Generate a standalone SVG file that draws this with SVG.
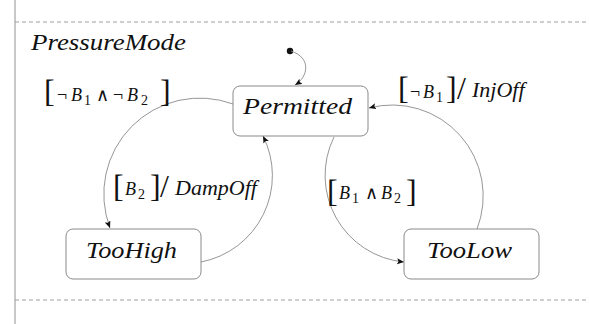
<svg xmlns="http://www.w3.org/2000/svg" width="589" height="324" viewBox="0 0 589 324" font-family="Liberation Serif">
  <style>
    .frame { stroke: #c8c8c8; stroke-width: 2; fill: none; }
    .dash { stroke: #a0a0a0; stroke-width: 1; stroke-dasharray: 4 3; fill: none; }
    .state { fill: #ffffff; stroke: #8a8a8a; stroke-width: 1; }
    .edge { fill: none; stroke: #8a8a8a; stroke-width: 0.9; }
    .name { font-style: italic; font-size: 24px; fill: #111; }
    .title { font-style: italic; font-size: 23px; fill: #111; }
    .lbl { fill: #111; }
    .br { font-size: 32px; }
    .op { font-size: 18px; }
    .v { font-style: italic; font-size: 18px; }
    .sub { font-size: 14px; }
    .act { font-style: italic; font-size: 22px; }
  </style>
  <defs>
    <marker id="arr" markerUnits="userSpaceOnUse" markerWidth="10" markerHeight="8" refX="7" refY="3" orient="auto">
      <path d="M0,0 L7,3 L0,6 L1.5,3 z" fill="#111"/>
    </marker>
  </defs>

  <!-- region frame -->
  <line class="frame" x1="15" y1="0" x2="15" y2="324"/>
  <line class="dash" x1="15" y1="22" x2="589" y2="22"/>
  <line class="dash" x1="15" y1="300" x2="589" y2="300"/>
  <text class="title" font-family="Liberation Serif" x="31" y="50" textLength="155" lengthAdjust="spacingAndGlyphs">PressureMode</text>

  <!-- transitions -->
  <g id="connectors">
    <circle cx="290" cy="51" r="3.2" fill="#111"/>
    <path class="edge" d="M291,51 C312,58 308,77 295,85" marker-end="url(#arr)"/>
    <path class="edge" d="M233,104 A96,96 0 0 0 110,228" marker-end="url(#arr)"/>
    <path class="edge" d="M201,262 A88,88 0 0 0 263,136" marker-end="url(#arr)"/>
    <path class="edge" d="M334,137 A87,87 0 0 0 404,262" marker-end="url(#arr)"/>
    <path class="edge" d="M477,229 A91,91 0 0 0 369,108" marker-end="url(#arr)"/>
  </g>

  <!-- transition labels -->
  <g id="label-permitted-toohigh" class="lbl" font-family="Liberation Serif">
    <text class="br" x="44" y="102">[</text>
    <text class="op" x="57" y="101">¬</text>
    <text class="v" x="71" y="101">B</text>
    <text class="sub" x="84" y="105">1</text>
    <text class="op" x="96" y="101">∧</text>
    <text class="op" x="113" y="101">¬</text>
    <text class="v" x="127" y="101">B</text>
    <text class="sub" x="141" y="105">2</text>
    <text class="br" x="160" y="102">]</text>
  </g>
  <g id="label-toolow-permitted" class="lbl" font-family="Liberation Serif">
    <text class="br" x="398" y="99">[</text>
    <text class="op" x="410" y="98">¬</text>
    <text class="v" x="423" y="98">B</text>
    <text class="sub" x="436" y="102">1</text>
    <text class="br" x="446" y="99">]</text>
    <text class="br" x="457" y="99">/</text>
    <text class="act" x="472" y="97">InjOff</text>
  </g>
  <g id="label-toohigh-permitted" class="lbl" font-family="Liberation Serif">
    <text class="br" x="113" y="197">[</text>
    <text class="v" x="125" y="195">B</text>
    <text class="sub" x="138" y="199">2</text>
    <text class="br" x="150" y="197">]</text>
    <text class="br" x="160" y="197">/</text>
    <text class="act" x="175" y="195">DampOff</text>
  </g>
  <g id="label-permitted-toolow" class="lbl" font-family="Liberation Serif">
    <text class="br" x="327" y="202">[</text>
    <text class="v" x="339" y="199">B</text>
    <text class="sub" x="352" y="203">1</text>
    <text class="op" x="365" y="199">∧</text>
    <text class="v" x="381" y="199">B</text>
    <text class="sub" x="394" y="203">2</text>
    <text class="br" x="406" y="202">]</text>
  </g>

  <!-- states -->
  <g id="permitted" font-family="Liberation Serif">
    <rect class="state" x="233" y="86" width="135" height="50" rx="7"/>
    <text class="name" x="243" y="114" textLength="109" lengthAdjust="spacingAndGlyphs">Permitted</text>
  </g>
  <g id="toohigh" font-family="Liberation Serif">
    <rect class="state" x="66" y="229" width="135" height="50" rx="7"/>
    <text class="name" x="86" y="258" textLength="91" lengthAdjust="spacingAndGlyphs">TooHigh</text>
  </g>
  <g id="toolow" font-family="Liberation Serif">
    <rect class="state" x="404" y="229" width="135" height="50" rx="7"/>
    <text class="name" x="427" y="258" textLength="85" lengthAdjust="spacingAndGlyphs">TooLow</text>
  </g>
</svg>
